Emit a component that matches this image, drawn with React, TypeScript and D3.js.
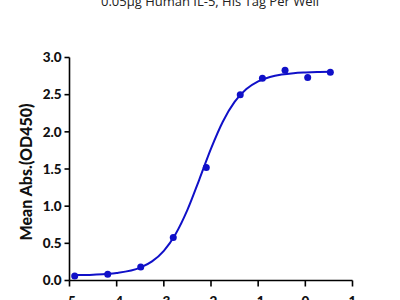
import React from "react";
import * as d3 from "d3";

const logConc = [-4.89, -4.19, -3.49, -2.8, -2.1, -1.38, -0.91, -0.43, 0.05, 0.53];
const meanAbs = [0.06, 0.085, 0.18, 0.58, 1.52, 2.5, 2.72, 2.83, 2.73, 2.8];

const curveX = [-4.89, -4.5, -4.0, -3.5, -3.25, -3.0, -2.75, -2.5, -2.25, -2.0, -1.75, -1.5, -1.25, -1.0, -0.75, -0.5, -0.25, 0, 0.25, 0.53];
const curveY = [0.073, 0.079, 0.101, 0.173, 0.257, 0.399, 0.626, 0.95, 1.355, 1.774, 2.136, 2.402, 2.575, 2.678, 2.738, 2.771, 2.789, 2.798, 2.804, 2.807];

const xTicks = [-5, -4, -3, -2, -1, 0, 1];
const yTicks = [0, 0.5, 1.0, 1.5, 2.0, 2.5, 3.0];

const title = "0.05µg Human IL-5, His Tag Per Well";
const yLabel = "Mean Abs.(OD450)";

export default function App() {
  const x = d3.scaleLinear().domain([-5, 1]).range([69.5, 352.5]);
  const y = d3.scaleLinear().domain([0, 3]).range([280.5, 57.5]);
  const blue = "#1010C8";
  const line = d3
    .line<number>()
    .x((_, i) => x(curveX[i]))
    .y((d) => y(d))
    .curve(d3.curveMonotoneX);

  return (
    <svg
      width={400}
      height={300}
      style={{ position: "absolute", left: 0, top: 0, background: "#fff" }}
    >
      <text
        x={210}
        y={6}
        textAnchor="middle"
        fontFamily="Open Sans"
        fontSize={13}
        fill="#222"
      >
        {title}
      </text>
      <text
        transform={`translate(32,${(y(0) + y(3)) / 2 + 3}) rotate(-90)`}
        textAnchor="middle"
        fontFamily="Lato"
        fontWeight={900}
        fontSize={16}
        fill="#111"
      >
        {yLabel}
      </text>
      {/* y axis */}
      <line x1={x(-5)} x2={x(-5)} y1={y(0)} y2={y(3)} stroke="#000" strokeWidth={1.6} />
      {yTicks.map((t) => (
        <g key={"y" + t}>
          <line x1={x(-5) - 5} x2={x(-5)} y1={y(t)} y2={y(t)} stroke="#000" strokeWidth={1.6} />
          <text
            x={x(-5) - 8}
            y={y(t)}
            dy="0.35em"
            textAnchor="end"
            fontFamily="Lato"
            fontWeight={900}
            fontSize={13.5}
            fill="#111"
          >
            {d3.format(".1f")(t)}
          </text>
        </g>
      ))}
      {/* x axis */}
      <line x1={x(-5)} x2={x(1)} y1={y(0)} y2={y(0)} stroke="#000" strokeWidth={1.6} />
      {xTicks.map((t) => (
        <g key={"x" + t}>
          <line x1={x(t)} x2={x(t)} y1={y(0)} y2={y(0) + 6} stroke="#000" strokeWidth={1.6} />
          <text
            x={x(t)}
            y={y(0) + 25}
            textAnchor="middle"
            fontFamily="Lato"
            fontWeight={900}
            fontSize={13.5}
            fill="#111"
          >
            {t}
          </text>
        </g>
      ))}
      <path d={line(curveY) || ""} fill="none" stroke={blue} strokeWidth={2} />
      {logConc.map((v, i) => (
        <circle key={i} cx={x(v)} cy={y(meanAbs[i])} r={3.5} fill={blue} />
      ))}
    </svg>
  );
}
